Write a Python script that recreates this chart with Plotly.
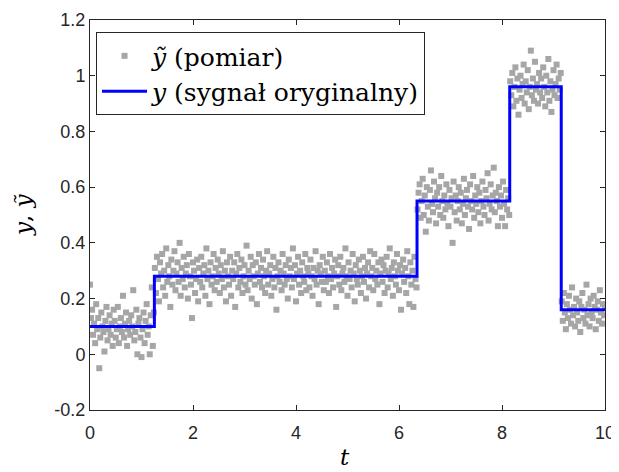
import numpy as np
import plotly.graph_objects as go

seg1 = [0.25,0.13,0.16,0.07,0.11,0.04,0.18,0.09,0.13,-0.05,0.06,0.15,0.10,0.08,0.01,0.12,0.17,0.05,0.09,0.14,
        0.07,0.11,0.03,0.16,0.12,0.06,0.09,0.17,0.04,0.10,0.13,0.08,0.21,0.06,0.11,0.15,0.03,0.09,0.12,0.07,
        0.14,0.10,0.23,0.05,0.08,0.16,0.00,0.11,0.13,0.06,-0.01,0.09,0.15,0.04,0.12,0.18,0.07,0.10,0.00,0.14,
        0.24,0.03,0.15]
seg2 = [0.31,0.22,0.35,0.27,0.19,0.33,0.29,0.36,0.24,0.30,0.21,0.38,0.26,0.32,0.28,
        0.17,0.34,0.25,0.30,0.37,0.23,0.29,0.33,0.26,0.40,0.21,0.31,0.27,0.35,0.24,
        0.29,0.32,0.20,0.36,0.28,0.25,0.13,0.33,0.30,0.22,0.27,0.34,0.19,0.31,0.26,
        0.35,0.24,0.29,0.32,0.21,0.38,0.27,0.30,0.18,0.33,0.25,0.28,0.36,0.23,0.31,
        0.26,0.34,0.29,0.22,0.32,0.27,0.37,0.24,0.30,0.19,0.33,0.28,0.25,0.35,0.21,
        0.30,0.27,0.33,0.17,0.29,0.36,0.24,0.31,0.26,0.34,0.22,0.28,0.32,0.25,0.39,
        0.23,0.30,0.27,0.35,0.20,0.32,0.28,0.25,0.33,0.18,0.29,0.36,0.26,0.31,0.24,
        0.34,0.28,0.22,0.30,0.37,0.25,0.29,0.32,0.21,0.27,0.35,0.24,0.31,0.16,0.28,
        0.33,0.26,0.30,0.23,0.36,0.29,0.25,0.32,0.27,0.20,0.34,0.28,0.31,0.24,0.38,
        0.27,0.32,0.19,0.29,0.35,0.25,0.30,0.22,0.33,0.28,0.26,0.36,0.23,0.31,0.29,
        0.24,0.34,0.28,0.21,0.31,0.27,0.37,0.25,0.30,0.18,0.32,0.29,0.26,0.35,0.23,
        0.30,0.26,0.33,0.28,0.22,0.36,0.27,0.31,0.24,0.29,0.34,0.17,0.28,0.32,0.25,
        0.35,0.23,0.29,0.31,0.26,0.38,0.28,0.21,0.33,0.27,0.30,0.24,0.36,0.29,0.19,
        0.32,0.27,0.25,0.34,0.30,0.22,0.28,0.35,0.26,0.31,0.20,0.29,0.33,0.24,0.37,
        0.28,0.31,0.23,0.36,0.27,0.30,0.25,0.33,0.18,0.29,0.34,0.26,0.32,0.22,0.30,
        0.35,0.24,0.29,0.38,0.27,0.31,0.21,0.33,0.28,0.25,0.36,0.30,0.23,0.32,0.16,
        0.29,0.34,0.26,0.31,0.22,0.37,0.28,0.18,0.33,0.25,0.30,0.17,0.35,0.27,0.24]
seg3 = [0.52,0.58,0.61,0.49,0.55,0.63,0.50,0.57,0.44,0.60,0.53,0.48,0.59,0.66,0.54,
        0.51,0.62,0.56,0.47,0.58,0.53,0.60,0.50,0.64,0.55,0.49,0.57,0.52,0.61,0.54,
        0.46,0.59,0.53,0.56,0.40,0.62,0.51,0.57,0.48,0.55,0.60,0.52,0.58,0.47,0.54,
        0.63,0.50,0.56,0.59,0.53,0.45,0.61,0.55,0.52,0.64,0.49,0.57,0.54,0.60,0.51,
        0.58,0.47,0.55,0.62,0.53,0.50,0.59,0.56,0.65,0.48,0.54,0.61,0.52,0.57,0.67,
        0.51,0.58,0.55,0.46,0.60,0.53,0.57,0.49,0.62,0.54,0.46,0.59,0.52,0.56,0.50]
seg4 = [0.98,0.93,1.01,0.89,0.96,1.03,0.91,0.99,0.86,0.95,1.00,0.92,0.97,1.04,0.90,
        0.98,0.94,1.02,0.88,0.96,1.09,0.93,0.99,0.91,1.05,0.95,0.97,0.90,1.01,0.94,
        0.99,0.92,1.03,0.96,0.89,1.00,0.94,1.06,0.91,0.98,0.87,0.95,1.02,0.93,0.97,
        1.04,0.92,0.99,0.95,1.01]
seg5 = [0.19,0.12,0.22,0.15,0.09,0.18,0.13,0.21,0.16,0.11,0.24,0.14,0.17,0.10,0.20,
        0.15,0.12,0.19,0.08,0.17,0.22,0.13,0.16,0.11,0.25,0.14,0.18,0.10,0.20,0.15,
        0.13,0.21,0.17,0.09,0.16,0.19,0.12,0.23,0.15,0.11,0.18,0.14,0.17]
seg_t = [(0.0, 1.24), (1.26, 6.34), (6.36, 8.14), (8.16, 9.14), (9.16, 10.0)]

# original step signal
step_t = [0, 1.25, 6.35, 8.15, 9.15, 10]
step_y = [0.10, 0.28, 0.55, 0.96, 0.16, 0.16]

ytick_vals = [-0.2, 0, 0.2, 0.4, 0.6, 0.8, 1, 1.2]
ytick_text = ["-0.2", "0", "0.2", "0.4", "0.6", "0.8", "1", "1.2"]
xtick_vals = [0, 2, 4, 6, 8, 10]

t_meas, y_meas = [], []
for seg, (a, b) in zip([seg1, seg2, seg3, seg4, seg5], seg_t):
    t_meas += list(np.linspace(a, b, len(seg)))
    y_meas += seg

serif = "DejaVu Serif"
sans = "Liberation Sans"
axc = "#262626"

fig = go.Figure()
fig.add_trace(go.Scatter(x=t_meas, y=y_meas, mode="markers",
                         marker=dict(symbol="square", size=6, color="#a6a6a6", line=dict(width=0)),
                         name="<i>ỹ</i> (pomiar)"))
fig.add_trace(go.Scatter(x=step_t, y=step_y, mode="lines", line_shape="hv",
                         line=dict(color="#0000ff", width=3),
                         name="<i>y</i> (sygnał oryginalny)"))

axis_common = dict(showgrid=False, zeroline=False, showline=True, mirror="ticks",
                   linecolor=axc, linewidth=1, ticks="inside", ticklen=5, tickcolor=axc,
                   automargin=False, ticklabeloverflow="allow",
                   tickfont=dict(family=sans, size=18, color=axc))
fig.update_xaxes(range=[0, 10], tickvals=xtick_vals, ticklabelstandoff=6, **axis_common)
fig.update_yaxes(range=[-0.2, 1.2], tickvals=ytick_vals, ticktext=ytick_text, **axis_common)

fig.update_layout(
    width=611, height=464,
    margin=dict(l=82, r=14, t=12, b=62),
    plot_bgcolor="white", paper_bgcolor="white",
    showlegend=True,
    legend=dict(x=0.0117, y=0.969, xanchor="left", yanchor="top",
                bgcolor="white", bordercolor=axc, borderwidth=1,
                font=dict(family=serif, size=25, color="black"),
                itemwidth=45, tracegroupgap=0),
    annotations=[
        dict(text="<i>t</i>", xref="paper", yref="paper", x=0.495, y=-0.12,
             showarrow=False, font=dict(family=serif, size=23, color="black"),
             xanchor="center", yanchor="middle"),
        dict(text="<i>y</i>, <i>ỹ</i>", xref="paper", yref="paper", x=-0.13, y=0.5,
             showarrow=False, textangle=-90, font=dict(family=serif, size=23, color="black"),
             xanchor="center", yanchor="middle"),
    ],
)
fig.write_html("out.html")
